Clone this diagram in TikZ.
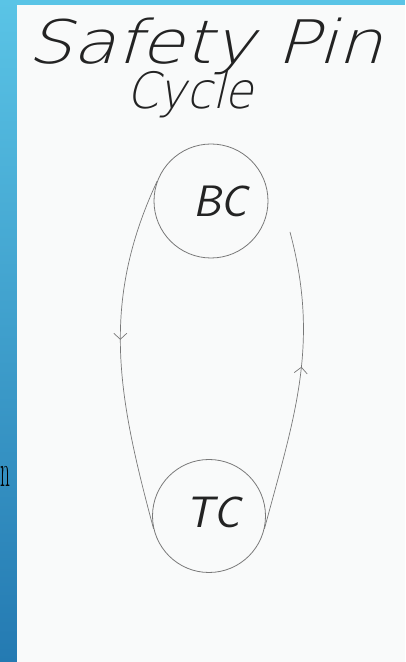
\documentclass[tikz,border=0pt]{standalone}
\usepackage{fontspec}
\usetikzlibrary{arrows.meta,decorations.markings}
\newfontfamily\handfont[FakeSlant=0.25]{DejaVu Sans ExtraLight}
\definecolor{bluetop}{RGB}{90,196,230}
\definecolor{bluebot}{RGB}{36,122,178}
\definecolor{paper}{RGB}{249,250,250}
\definecolor{pencil}{RGB}{120,120,120}
\definecolor{ink}{RGB}{35,35,35}
\begin{document}
\begin{tikzpicture}[x=1pt,y=1pt,
  ring/.style={circle,draw=pencil,line width=0.8pt,minimum size=114pt,inner sep=0pt,
    font=\fontsize{44}{44}\selectfont\sffamily\slshape,text=ink},
  loopline/.style={draw=pencil,line width=0.7pt},
  midarrow/.style={decoration={markings,mark=at position #1 with
    {\arrow[pencil,line width=0.7pt]{Straight Barb[length=6pt,width=13pt]}}},postaction=decorate},
  title/.style={text=ink,inner sep=0pt,anchor=base}
]
\useasboundingbox (0,0) rectangle (405,662);
\clip (0,0) rectangle (405,662);
\shade[top color=bluetop,bottom color=bluebot] (0,0) rectangle (17,662);
\fill[bluetop] (17,657) rectangle (405,662);
\fill[paper] (17,0) rectangle (405,657);
\node[anchor=base east,inner sep=0pt,font=\fontsize{46}{46}\selectfont,text=black] (nn) at (10.5,175) {\scalebox{0.42}[1]{n}};
% title
\node[title,font=\fontsize{60}{60}\selectfont\handfont] (t1) at (205,598) {\scalebox{1.18}[1]{Safety Pin}};
\node[title,font=\fontsize{50}{50}\selectfont\handfont] (t2) at (190,553) {\scalebox{0.93}[1]{Cycle}};
% circles
\node[ring] (BC) at (211,461) {\hspace*{18pt}BC};
\node[ring,minimum size=113pt] (TC) at (209,146) {\hspace*{8pt}\raisebox{8pt}{TC}};
% loop
\coordinate (rend) at (290,430);
\draw[loopline,midarrow=0.46] (BC.160) to[out=245,in=105] (TC.193);
\draw[loopline,midarrow=0.55] (TC.-13) to[out=75,in=285] (rend);
\end{tikzpicture}
\end{document}
